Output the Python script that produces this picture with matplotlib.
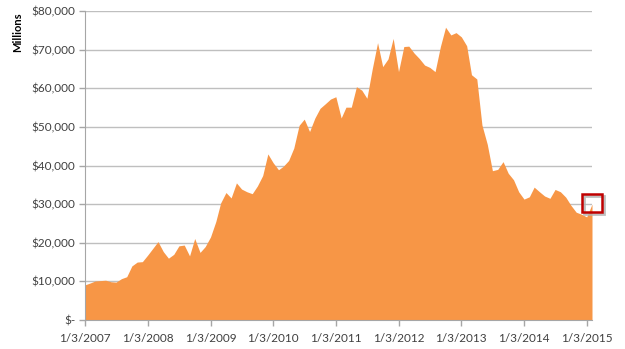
import numpy as np
import pandas as pd
import matplotlib
matplotlib.use("Agg")
import matplotlib.pyplot as plt
from matplotlib.patches import Rectangle

# monthly values, Jan 2007 .. Feb 2015 (millions of dollars)
values = [
    9100, 9600, 10100, 10200, 10300, 9900, 9800, 10700, 11200, 14000, 15000, 15100,
    16800, 18600, 20300, 17700, 16000, 17000, 19200, 19400, 16600, 21100, 17500, 19000,
    21500, 25500, 30300, 33000, 31600, 35500, 33900, 33200, 32700, 34700, 37400, 43000,
    40700, 38900, 39800, 41300, 44500, 50400, 52000, 48800, 52300, 54800, 56000, 57200,
    57800, 52300, 55100, 55100, 60400, 59500, 57400, 65000, 71800, 65600, 67600, 72900,
    64300, 70800, 70900, 69100, 67700, 66000, 65400, 64300, 70800, 75800, 73800, 74400,
    73300, 71000, 63500, 62400, 50500, 45500, 38650, 39000, 41000, 38000, 36300, 33200,
    31300, 31900, 34400, 33200, 32100, 31500, 33800, 33200, 31800, 29700, 27900, 27400,
    26700, 30000,
]
dates = pd.date_range("2007-01-03", periods=len(values), freq=pd.DateOffset(months=1))
tick_years = list(range(2007, 2016))
y_ticks = list(range(0, 80001, 10000))

plt.rcParams["font.family"] = ["Lato", "DejaVu Sans"]

fig = plt.figure(figsize=(6.25, 3.49), dpi=100)
ax = fig.add_axes([85 / 625, 1 - 320 / 349, (592 - 85) / 625, (320 - 11) / 349])

ax.fill_between(dates, values, 0, color="#F79646", linewidth=0, zorder=2)

ax.set_xlim(dates[0], dates[-1])
ax.set_ylim(0, 80000)

ax.set_yticks(y_ticks)
ax.set_yticklabels(["$-"] + [f"${v:,}" for v in y_ticks[1:]])
xt = [pd.Timestamp(year=y, month=1, day=3) for y in tick_years]
ax.set_xticks(xt)
ax.set_xticklabels([f"{d.month}/{d.day}/{d.year}" for d in xt])

ax.grid(axis="y", color="#BFBFBF", linewidth=1, zorder=1)
ax.set_axisbelow(True)
ax.tick_params(axis="both", labelsize=8.5, colors="#404040", length=4, width=1, color="#A6A6A6")
ax.tick_params(axis="x", pad=5)
ax.tick_params(axis="y", pad=3)

for s in ["top", "right"]:
    ax.spines[s].set_visible(False)
ax.spines["left"].set_color("#A6A6A6")
ax.spines["bottom"].set_color("#A6A6A6")

fig.text(18 / 625, 1 - 12 / 349, "Millions", rotation=90, ha="center", va="top",
         fontsize=8, fontweight="bold", color="black")

# highlight box with soft shadow
x0, y0, w, h = 582 / 625, 1 - 212 / 349, 20 / 625, 18 / 349
fig.patches.append(Rectangle((x0 + 2 / 625, y0 - 2 / 349), w, h, transform=fig.transFigure,
                             fill=False, edgecolor="#B0B0B0", linewidth=2, alpha=0.8))
fig.patches.append(Rectangle((x0, y0), w, h, transform=fig.transFigure,
                             fill=False, edgecolor="#C00000", linewidth=1.8))

fig.savefig("out.png", dpi=100, facecolor="white")
